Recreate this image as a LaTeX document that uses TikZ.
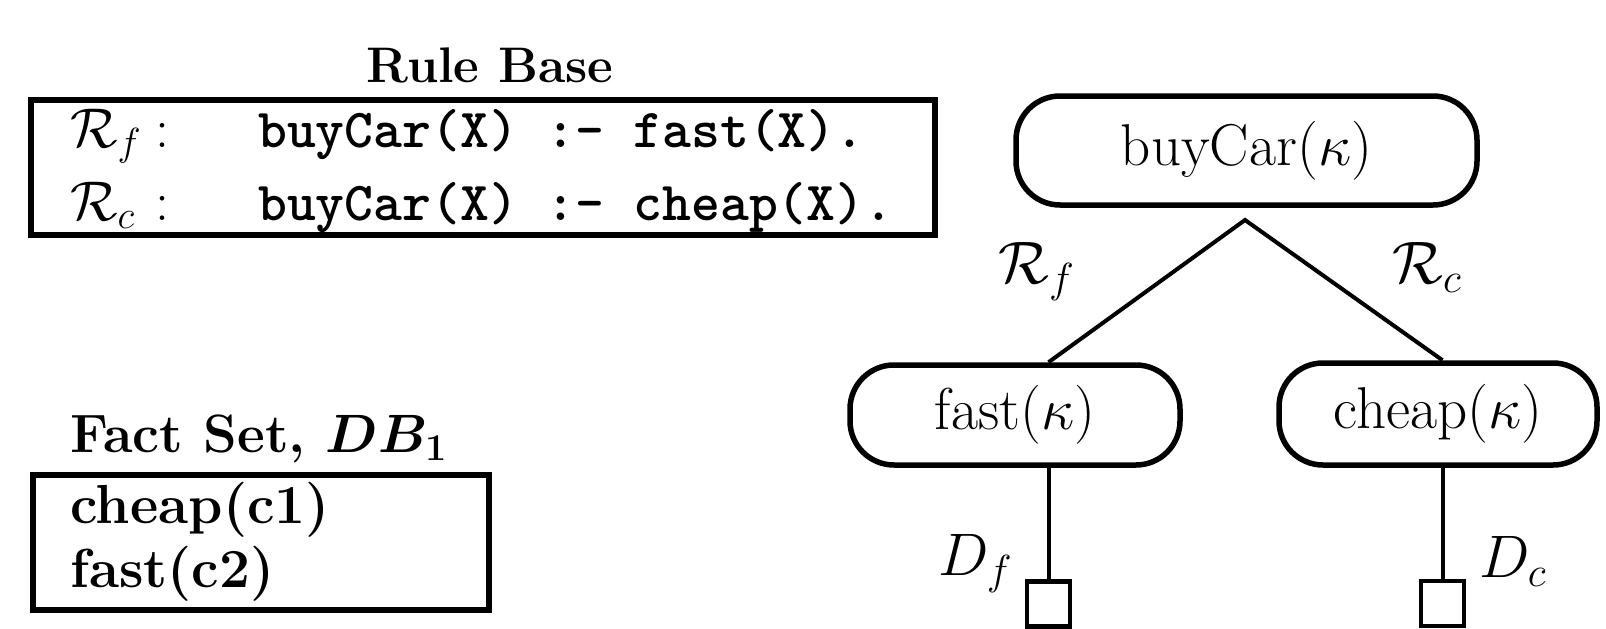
\RequirePackage{fix-cm}
\documentclass[tikz,border=0pt]{standalone}
\begin{document}
\begin{tikzpicture}[x=1pt,y=-1pt,
  frame/.style={draw, line width=6pt, inner sep=0pt},
  goal/.style={draw, line width=5.5pt, rounded corners=44pt, inner sep=0pt, font=\fontsize{59}{70}\selectfont},
  leaf/.style={draw, line width=4.5pt, inner sep=0pt, minimum width=43pt, minimum height=45pt},
  link/.style={line width=4pt},
  code/.style={anchor=base west, inner sep=0pt, font=\fontsize{55}{60}\selectfont\ttfamily\bfseries},
  fact/.style={anchor=base west, inner sep=0pt, font=\fontsize{55}{60}\selectfont\bfseries},
  title/.style={inner sep=0pt, font=\fontsize{50}{60}\selectfont\bfseries},
  rlabel/.style={anchor=base west, inner sep=0pt, font=\fontsize{56}{60}\selectfont},
  tlabel/.style={anchor=base west, inner sep=0pt, font=\fontsize{60}{70}\selectfont},
]
\useasboundingbox (0,0) rectangle (1606,629);
% Rule base
\node[title, anchor=base] (rbtitle) at (490,82) {Rule Base};
\node[frame, minimum width=904pt, minimum height=135pt] (rulebox) at (483,167.5) {};
\node[rlabel] (rflab0) at (70,147) {\makebox[85pt][l]{$\mathcal{R}_f$}:};
\node[rlabel] (rclab0) at (70,220) {\makebox[85pt][l]{$\mathcal{R}_c$}:};
\node[code] (rfcode) at (258,147) {buyCar(X) :- fast(X).};
\node[code] (rccode) at (258,220) {buyCar(X) :- cheap(X).};
% Fact set
\node[fact, font=\fontsize{54}{60}\selectfont\bfseries] (fstitle) at (70,452) {Fact Set, {\boldmath$DB_1$}};
\node[frame, minimum width=456pt, minimum height=135pt] (factbox) at (261,542.5) {};
\node[fact] (f1) at (70,523) {cheap(c1)};
\node[fact] (f2) at (70,587) {fast(c2)};
% Tree
\node[goal, minimum width=461pt, minimum height=109pt] (buy) at (1246.5,150.5) {buyCar($\kappa$)};
\node[goal, minimum width=330pt, minimum height=100pt] (fast) at (1015,415) {fast($\kappa$)};
\node[goal, minimum width=318pt, minimum height=102pt] (cheap) at (1438,414) {cheap($\kappa$)};
\node[leaf] (fsq) at (1048.5,604) {};
\node[leaf] (csq) at (1442.5,603.5) {};
\coordinate (apex) at (1245,220);
\draw[link] (fast.north -| fsq) -- (apex) -- (cheap.north -| csq);
\draw[link] (fast.south -| fsq) -- (fsq.north);
\draw[link] (cheap.south -| csq) -- (csq.north);
\node[tlabel] (rflab) at (998,283) {$\mathcal{R}_f$};
\node[tlabel] (rclab) at (1392,283) {$\mathcal{R}_c$};
\node[tlabel] (dflab) at (938,575) {$D_f$};
\node[tlabel] (dclab) at (1479,577) {$D_c$};
\end{tikzpicture}
\end{document}
